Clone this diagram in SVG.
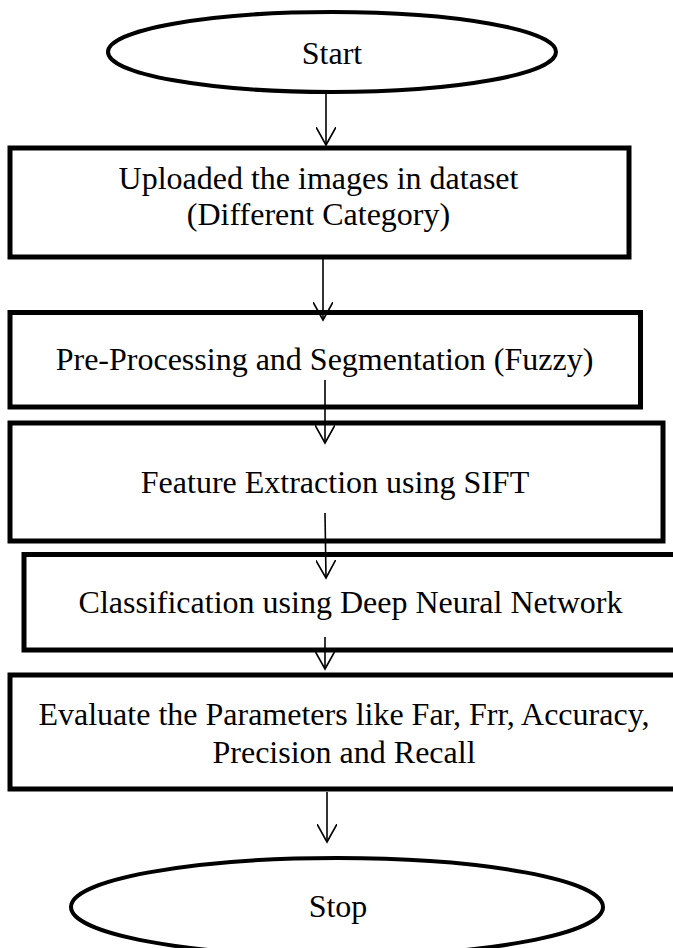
<svg xmlns="http://www.w3.org/2000/svg" width="673" height="948" viewBox="0 0 673 948">
  <style>
    .box { fill: none; stroke: #000; stroke-width: 5; }
    .term { fill: none; stroke: #000; stroke-width: 4; }
    .label { font-family: "Liberation Serif", "Times New Roman", serif; font-size: 32px; fill: #000; text-anchor: middle; }
    .flow { fill: none; stroke: #000; stroke-width: 1.6; }
  </style>
  <defs>
    <marker id="arrow" viewBox="0 0 20 20" refX="18" refY="10" markerWidth="20" markerHeight="20" markerUnits="userSpaceOnUse" orient="auto">
      <path d="M0,0 L18,10 L0,20" fill="none" stroke="#000" stroke-width="1.6"/>
    </marker>
  </defs>
  <rect width="673" height="948" fill="#fff"/>

  <g id="start">
    <ellipse class="term" cx="332" cy="52" rx="224" ry="40"/>
    <text class="label" x="332" y="64">Start</text>
  </g>

  <g id="upload">
    <rect class="box" x="10" y="148" width="619" height="109"/>
    <text class="label" x="318.5" y="189">Uploaded the images in dataset</text>
    <text class="label" x="318.5" y="225">(Different Category)</text>
  </g>

  <g id="preprocess">
    <rect class="box" x="10" y="312.5" width="630.5" height="94.5"/>
    <text class="label" x="324.5" y="370">Pre-Processing and Segmentation (Fuzzy)</text>
  </g>

  <g id="features">
    <rect class="box" x="10" y="423" width="653" height="118"/>
    <text class="label" x="335" y="493">Feature Extraction using SIFT</text>
  </g>

  <g id="classify">
    <rect class="box" x="24" y="554.5" width="654" height="95.5"/>
    <text class="label" x="350.5" y="613">Classification using Deep Neural Network</text>
  </g>

  <g id="evaluate">
    <rect class="box" x="10" y="675" width="668" height="114"/>
    <text class="label" x="344" y="725">Evaluate the Parameters like Far, Frr, Accuracy,</text>
    <text class="label" x="344" y="763">Precision and Recall</text>
  </g>

  <g id="stop">
    <ellipse class="term" cx="337" cy="907" rx="266" ry="49"/>
    <text class="label" x="338" y="917">Stop</text>
  </g>

  <g id="connectors">
    <line class="flow" x1="326" y1="94" x2="326" y2="145" marker-end="url(#arrow)"/>
    <line class="flow" x1="323" y1="259" x2="323" y2="320" marker-end="url(#arrow)"/>
    <line class="flow" x1="325" y1="380" x2="325" y2="443" marker-end="url(#arrow)"/>
    <line class="flow" x1="325" y1="513" x2="326" y2="578" marker-end="url(#arrow)"/>
    <line class="flow" x1="325" y1="637" x2="325" y2="669" marker-end="url(#arrow)"/>
    <line class="flow" x1="327" y1="792" x2="327" y2="842" marker-end="url(#arrow)"/>
  </g>
</svg>
